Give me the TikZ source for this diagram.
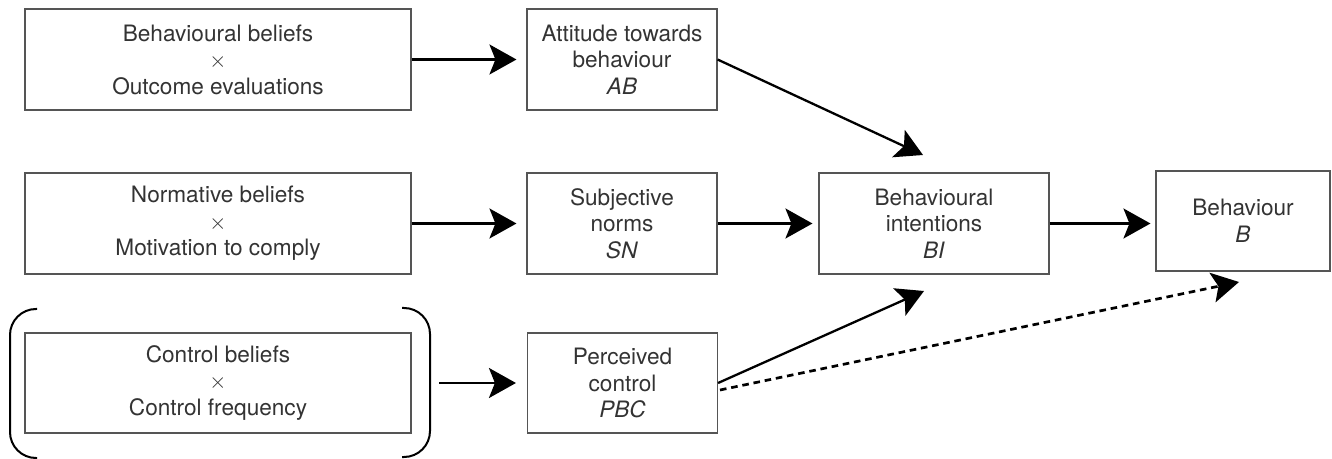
\documentclass[tikz,border=0pt]{standalone}
\usepackage{fontspec}
\setmainfont{TeX Gyre Heros}
\usetikzlibrary{arrows.meta}
\definecolor{txt}{HTML}{333333}
\definecolor{edge}{HTML}{555555}
\newcommand{\mytimes}{$\times$}
\begin{document}
\begin{tikzpicture}[x=0.5pt,y=-0.5pt,
  box/.style={draw=edge, line width=0.55pt, inner sep=0pt, align=center, text=txt,
    font=\fontsize{11.3}{13.25}\selectfont},
  wide/.style={box, minimum width=193pt, minimum height=50.5pt},
  mid/.style={box, minimum width=95pt, minimum height=50.5pt},
  arr/.style={-{Stealth[length=13.5pt,width=15pt,inset=3pt]}, line width=1.15pt, black},
  dasharr/.style={arr, line width=1.35pt, dash pattern=on 3.3pt off 2.4pt},
  brk/.style={line width=1pt, black, rounded corners=13pt}]
\useasboundingbox (0,0) rectangle (1332,459);
% left column
\node[wide] (bb) at (218,59.5) {Behavioural beliefs\\\mytimes\\Outcome evaluations};
\node[wide] (nb) at (218,223.5) {Normative beliefs\\\mytimes\\Motivation to comply};
\node[wide, minimum height=50pt] (cb) at (218,383) {Control beliefs\\\mytimes\\Control frequency};
% middle column
\node[mid] (AB) at (622,59.5) {Attitude towards\\behaviour\\\textit{AB}};
\node[mid] (SN) at (622,223.5) {Subjective\\norms\\\textit{SN}};
\node[mid, minimum height=50pt] (PBC) at (622.5,383) {Perceived\\control\\\textit{PBC}};
% right
\node[box, minimum width=115pt, minimum height=50.5pt] (BI) at (934,223.5) {Behavioural\\intentions\\\textit{BI}};
\node[box, minimum width=87pt, minimum height=50pt] (B) at (1243,221) {Behaviour\\\textit{B}};
% bracket
\draw[brk] (37,309) -- (10,309) -- (10,458) -- (37,458);
\draw[brk] (402,308) -- (430,308) -- (430,457) -- (402,457);
% coordinates
\coordinate (brOut) at (439,383);
\coordinate (abEnd) at (923,155);
\coordinate (pbcEnd) at (924,291);
\coordinate (dashStart) at (720,390);
\coordinate (dashEnd) at (1239,282);
% arrows
\draw[arr, shorten >=5pt] (bb.east) -- (AB.west);
\draw[arr, shorten >=5pt] (nb.east) -- (SN.west);
\draw[arr, shorten >=5.5pt] (brOut) -- (PBC.west);
\draw[arr] (AB.east) -- (abEnd);
\draw[arr, shorten >=3pt] (SN.east) -- (BI.west);
\draw[arr] (PBC.east) -- (pbcEnd);
\draw[arr, shorten >=2.5pt] (BI.east) -- (B.west |- BI.east);
\draw[dasharr] (dashStart) -- (dashEnd);
\end{tikzpicture}
\end{document}
